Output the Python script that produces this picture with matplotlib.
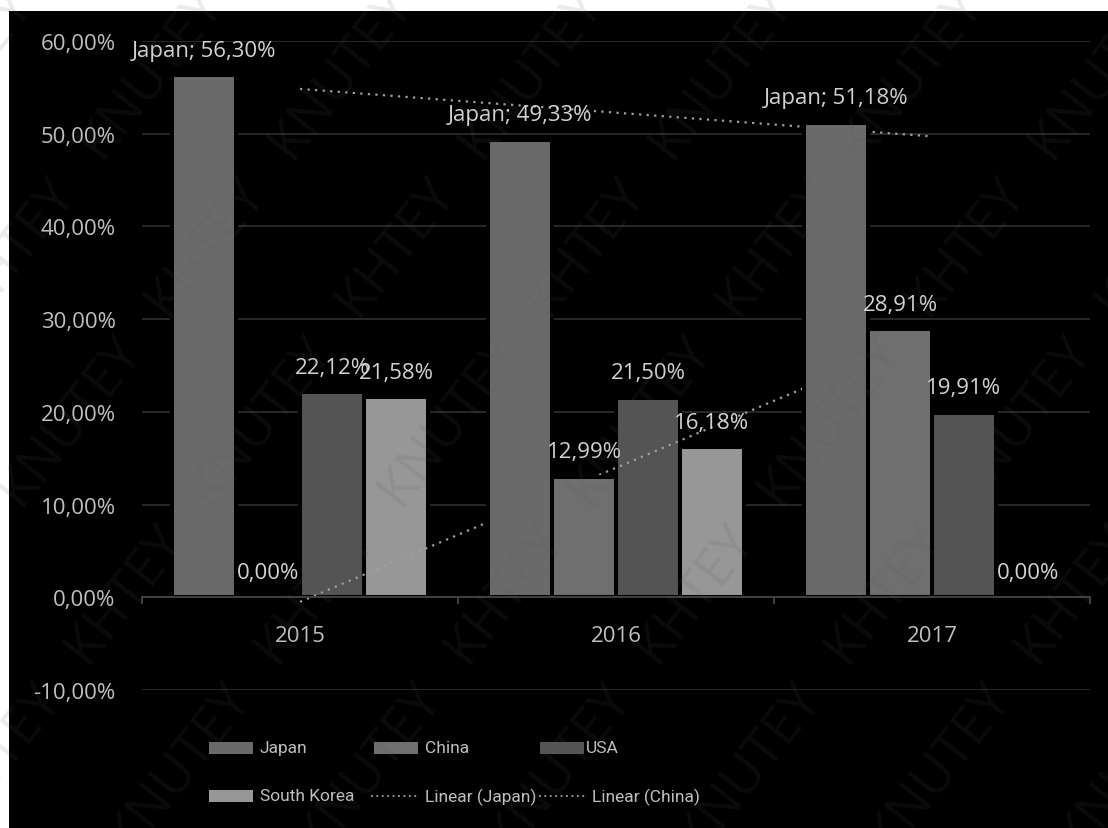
import numpy as np
import matplotlib
matplotlib.use("Agg")
import matplotlib.pyplot as plt
from matplotlib.patches import Rectangle
from matplotlib.lines import Line2D

# ---- data -------------------------------------------------------------
years = ["2015", "2016", "2017"]
series_names = ["Japan", "China", "USA", "South Korea"]
japan = [56.30, 49.33, 51.18]
china = [0.00, 12.99, 28.91]
usa = [22.12, 21.50, 19.91]
south_korea = [21.58, 16.18, 0.00]
y_ticks = [-10, 0, 10, 20, 30, 40, 50, 60]

# ---- style ------------------------------------------------------------
W, H = 1108, 829
colors = {"Japan": "#6a6a6a", "China": "#6f6f6f", "USA": "#545454", "South Korea": "#979797"}
tick_color = "#bfbfbf"
label_color = "#d2d2d2"
trend_color = "#a0a0a0"
grid_color = "#282828"
axis_color = "#404040"
main_font = ["Open Sans", "DejaVu Sans"]
legend_font = ["Roboto", "DejaVu Sans"]


def fx(x):
    return x / W


def fy(y):
    return 1 - y / H


def pct(v):
    return f"{v:.2f}%".replace(".", ",")


fig = plt.figure(figsize=(W / 100, H / 100), dpi=100)
fig.patch.set_facecolor("white")
fig.add_artist(Rectangle((fx(9), 0), 1 - fx(9), fy(12), transform=fig.transFigure,
                         facecolor="black", edgecolor="none", zorder=-5))

ax = fig.add_axes([fx(142), fy(691), fx(1090) - fx(142), fy(42) - fy(691)])
ax.set_facecolor("black")
ax.set_xlim(-0.5, 2.5)
ax.set_ylim(-10, 60)

x = np.arange(len(years))
slot = 0.2025
values = {"Japan": japan, "China": china, "USA": usa, "South Korea": south_korea}
bar_z = {"Japan": 4, "China": 4, "USA": 2, "South Korea": 2}

for i, name in enumerate(series_names):
    pos = x + (i - 1.5) * slot
    vals = values[name]
    ax.bar(pos, vals, width=slot, color=colors[name], edgecolor="black",
           linewidth=2.9, zorder=bar_z[name])
    for px_, v in zip(pos, vals):
        txt = f"Japan; {pct(v)}" if name == "Japan" else pct(v)
        ax.annotate(txt, xy=(px_, v), xytext=(0, 18), textcoords="offset points",
                    ha="center", va="center", color=label_color, fontsize=16,
                    family=main_font, zorder=6)

# linear trendlines
for name in ["Japan", "China"]:
    coef = np.polyfit(x, values[name], 1)
    ax.plot([x[0], x[-1]], np.polyval(coef, [x[0], x[-1]]), linestyle=(0, (1, 2.4)),
            linewidth=1.6, color=trend_color, zorder=3)

# axes styling
for s in ["top", "right", "left"]:
    ax.spines[s].set_visible(False)
ax.spines["bottom"].set_position(("data", 0))
ax.spines["bottom"].set_color(axis_color)
ax.spines["bottom"].set_linewidth(1.4)
ax.spines["bottom"].set_zorder(5)

ax.set_yticks(y_ticks, labels=[pct(v) for v in y_ticks])
ax.yaxis.grid(True, color=grid_color, linewidth=1.4)
ax.set_axisbelow(True)
ax.tick_params(axis="y", length=0, pad=19, labelsize=16, labelcolor=tick_color)

ax.set_xticks(x, labels=years)
ax.set_xticks([-0.5, 0.5, 1.5, 2.5], minor=True)
ax.tick_params(axis="x", which="major", length=0, pad=20, labelsize=16, labelcolor=tick_color)
ax.tick_params(axis="x", which="minor", length=5, width=1.4, color=axis_color, direction="out")
for lbl in ax.get_xticklabels() + ax.get_yticklabels():
    lbl.set_family(main_font)

# legend
patch_entries = [("Japan", 209, 749, 260), ("China", 374, 749, 425),
                 ("USA", 540, 749, 586), ("South Korea", 209, 797, 260)]
for name, x0, yc, tx in patch_entries:
    fig.add_artist(Rectangle((fx(x0), fy(yc + 6)), fx(44), 12 / H, transform=fig.transFigure,
                             facecolor=colors[name], edgecolor="none", zorder=4))
    fig.text(fx(tx), fy(yc), name, color=tick_color, fontsize=12.5, family=legend_font,
             ha="left", va="center", zorder=4)
line_entries = [("Linear (Japan)", 371, 417, 797, 425), ("Linear (China)", 539, 585, 797, 592)]
for name, x0, x1, yc, tx in line_entries:
    fig.add_artist(Line2D([fx(x0), fx(x1)], [fy(yc), fy(yc)], transform=fig.transFigure,
                          linestyle=(0, (1, 2.0)), linewidth=1.3, color=trend_color, zorder=4))
    fig.text(fx(tx), fy(yc), name, color=tick_color, fontsize=12.5, family=legend_font,
             ha="left", va="center", zorder=4)

# diagonal watermark
mark = "KNUTEY   KHTEY   " * 8
for x0 in range(-1400, 1200, 190):
    fig.text(fx(x0), fy(H + 20), mark, rotation=52, rotation_mode="anchor",
             ha="left", va="center", fontsize=38, color="#5a5a5a", alpha=0.12,
             family=main_font, zorder=8)

fig.savefig("out.png", dpi=100, facecolor=fig.get_facecolor())
